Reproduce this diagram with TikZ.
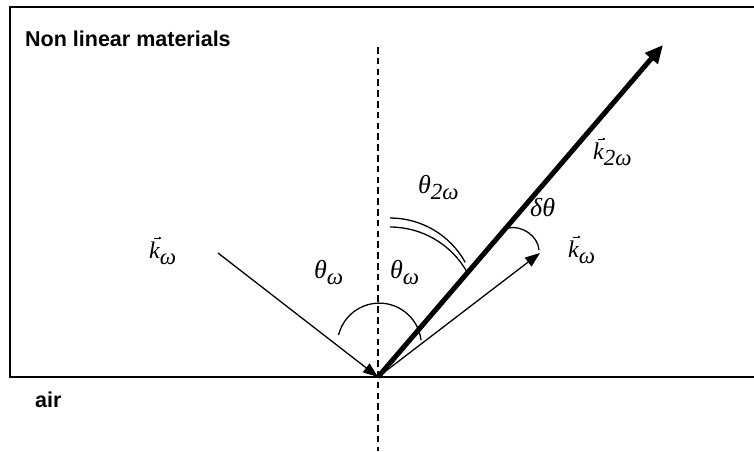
\documentclass[tikz,border=0pt]{standalone}
\usepackage{fontspec}
\setmainfont{Liberation Serif}
\newfontfamily\arialfont{Liberation Sans}
\usetikzlibrary{arrows.meta}
\newcommand\sbs[1]{\raisebox{-0.27em}{\fontsize{23}{23}\selectfont #1}}
\newcommand\gr[1]{{\fontsize{26}{26}\selectfont #1}}
\begin{document}
\begin{tikzpicture}[x=1pt,y=1pt,
  thinline/.style={line width=1.3pt},
  thinarrow/.style={line width=1.3pt,-{Triangle[length=15pt,width=11pt]}},
  thickarrow/.style={line width=5pt,-{Triangle[length=18pt,width=16pt]}},
  vecarrow/.style={line width=0.6pt,-{Triangle[length=2.5pt,width=2.5pt]}},
  boxline/.style={line width=2pt,line join=miter},
  dashline/.style={line width=1.3pt,dash pattern=on 6.5pt off 4.3pt},
  mathlbl/.style={anchor=base west,inner sep=0pt,font=\fontsize{24}{24}\selectfont\itshape},
  textlbl/.style={anchor=base west,inner sep=0pt,font=\arialfont\bfseries\fontsize{21.5}{21.5}\selectfont}]
\useasboundingbox (0,0) rectangle (754,451);
% coordinates
\coordinate (O) at (378,74);
\coordinate (inc) at (218,198);
\coordinate (ktwo) at (663,406);
\coordinate (kout) at (540,198);
\coordinate (dtop) at (378,404);
\coordinate (dbot) at (378,0);
% box (open on the right)
\draw[boxline] (754,444.3) -- (10,444.3) -- (10,74) -- (754,74);
% normal
\draw[dashline] (dtop) -- (dbot);
% arrows
\draw[thinarrow] (inc) -- (O);
\draw[thinarrow] (O) -- (kout);
\draw[thickarrow] (O) -- (ktwo);
% angle arcs
\draw[thinline] (421,111) arc[start angle=7,end angle=166,radius=42];
\draw[thinline] (390,233) arc[start angle=90,end angle=29,radius=86];
\draw[thinline] (390,224) arc[start angle=90,end angle=29.5,radius=88.4];
\draw[thinline] (508,223) .. controls (522,226) and (538,215) .. (539,201);
% labels
\node[textlbl] (nlm) at (25,405) {Non linear materials};
\node[textlbl] (air) at (35,44) {air};
\node[mathlbl] (kin) at (149,193) {k\sbs{ω}};
\node[mathlbl] (thl) at (314,173) {\gr{θ}\sbs{ω}};
\node[mathlbl] (thr) at (390,173) {\gr{θ}\sbs{ω}};
\node[mathlbl] (th2) at (418,258) {\gr{θ}\sbs{2ω}};
\node[mathlbl] (dth) at (530,235) {\gr{δθ}};
\node[mathlbl] (k2) at (593,292) {k\sbs{2ω}};
\node[mathlbl] (kr) at (568,194) {k\sbs{ω}};
% vector arrows over k
\foreach \n in {kin,k2,kr}
  \draw[vecarrow] ([xshift=4.5pt,yshift=20pt]\n.base west) -- ++(8,0);
\end{tikzpicture}
\end{document}
